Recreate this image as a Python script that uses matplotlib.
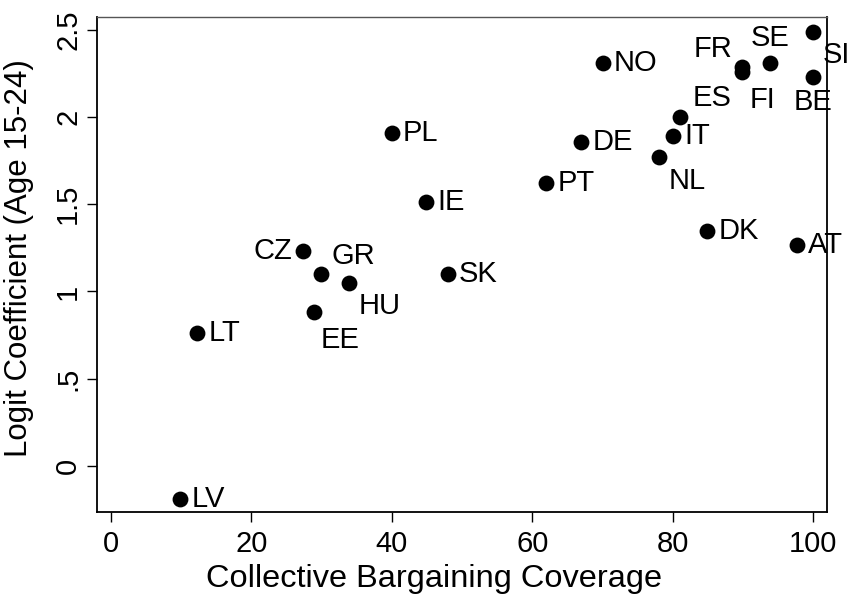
import matplotlib
matplotlib.use("Agg")
import matplotlib.pyplot as plt

plt.rcParams['font.family'] = ['Liberation Sans', 'DejaVu Sans']

# country codes, bargaining coverage (%), logit coefficient
countries = ["LV", "LT", "EE", "CZ", "GR", "HU", "SK", "IE", "PL", "PT", "DE", "NO",
             "NL", "IT", "ES", "DK", "AT", "FR", "FI", "SE", "SI", "BE"]
coverage = [9.9, 12.3, 28.9, 27.4, 30.0, 33.9, 48.0, 44.9, 40.0, 62.0, 67.0, 70.0,
            78.0, 80.0, 81.0, 84.9, 97.7, 89.8, 89.9, 93.8, 100.0, 100.0]
coef = [-0.19, 0.76, 0.88, 1.23, 1.10, 1.05, 1.10, 1.515, 1.91, 1.62, 1.86, 2.31,
        1.77, 1.89, 2.00, 1.345, 1.265, 2.285, 2.26, 2.31, 2.49, 2.23]
# label clock positions (Stata style)
clockpos = [3, 3, 5, 9, 1, 4, 3, 3, 3, 3, 3, 3,
            4, 3, 2, 3, 3, 11, 5, 12, 4, 6]

# offset in points, ha, va for each clock position
pos_style = {
    3: ((8, 0), "left", "center"),
    9: ((-8, 0), "right", "center"),
    1: ((7, 3), "left", "bottom"),
    2: ((9, 4), "left", "bottom"),
    11: ((-7, 3), "right", "bottom"),
    12: ((0, 8), "center", "bottom"),
    4: ((7, -7), "left", "top"),
    5: ((5, -10), "left", "top"),
    6: ((0, -8), "center", "top"),
}

fig = plt.figure(figsize=(8.51, 5.96), dpi=100)
ax = fig.add_axes([0.1136, 0.1404, 0.8586, 0.8316])

ax.scatter(coverage, coef, s=130, color="black", zorder=3, linewidths=0)
for c, x, y, p in zip(countries, coverage, coef, clockpos):
    off, ha, va = pos_style[p]
    ax.annotate(c, (x, y), xytext=off, textcoords="offset points",
                ha=ha, va=va, fontsize=21, annotation_clip=False)

ax.set_xlim(-2, 102)
ax.set_ylim(-0.267, 2.576)
ax.set_xticks([0, 20, 40, 60, 80, 100])
ax.set_yticks([0, 0.5, 1, 1.5, 2, 2.5])
ax.set_yticklabels(["0", ".5", "1", "1.5", "2", "2.5"], rotation=90, va="center")
ax.tick_params(labelsize=21, length=7, width=1)
ax.tick_params(axis="x", pad=6)
ax.set_xlabel("Collective Bargaining Coverage", fontsize=23.4)
ax.set_ylabel("Logit Coefficient (Age 15-24)", fontsize=22.5)
ax.xaxis.set_label_coords(0.462, -0.105)
ax.yaxis.set_label_coords(-0.086, 0.514)
for s in ax.spines.values():
    s.set_linewidth(1.3)
ax.spines["top"].set_color("#555555")
ax.spines["top"].set_linewidth(1.0)

fig.savefig("out.png", dpi=100)
